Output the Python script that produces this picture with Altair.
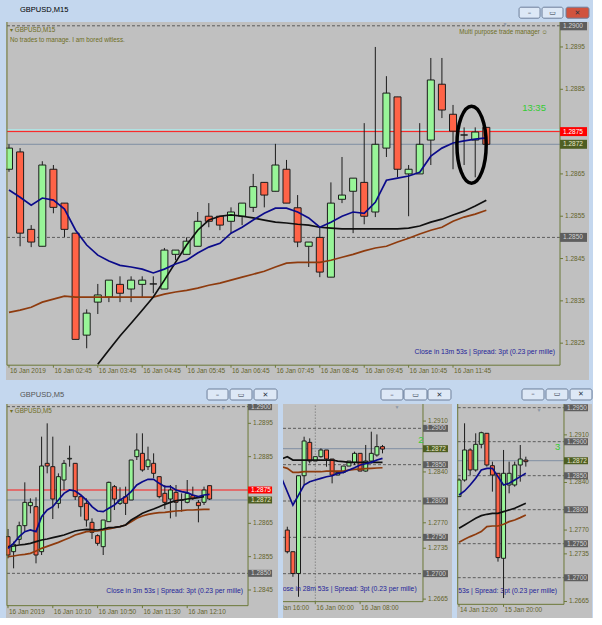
import altair as alt
import pandas as pd

FONT = "Liberation Sans"
FS = 6.5
LABEL_C = "#64642C"
FRAME_C = "#6B7838"
WICK_C = "#1C1C1C"
UP_C = "#98F598"
DN_C = "#FF6347"
BLUE_C = "#0B0B8A"
BLACK_C = "#101010"
BROWN_C = "#8E3B0E"
DASH_C = "#5C5C5C"
SLATE_C = "#7F8EA3"
RED_C = "#FF1A1A"
CYAN_C = "#B0E2E2"
BOX_GREY = "#5E5E5E"
BOX_OLIVE = "#4E5E22"
TXT_OLIVE = "#6E6E24"
NAVY_TXT = "#1F1F99"
GREEN_TXT = "#33CC33"

# ---------------- GBPUSD M15 (main window) ----------------
m15_open = [1.28661, 1.28702, 1.28519, 1.28479, 1.28661, 1.28581, 1.28510, 1.28269, 1.28347, 1.28359,
            1.28389, 1.28378, 1.28389, 1.28390, 1.28378, 1.28460, 1.28460, 1.28479, 1.28550, 1.28550,
            1.28538, 1.28550, 1.28571, 1.28630, 1.28609, 1.28661, 1.28570, 1.28479, 1.28500, 1.28406,
            1.28590, 1.28609, 1.28630, 1.28560, 1.28711, 1.28832, 1.28650, 1.28650, 1.28730, 1.28862,
            1.28791, 1.28742, 1.28730, 1.28760]
m15_high = [1.28720, 1.28711, 1.28529, 1.28680, 1.28671, 1.28581, 1.28510, 1.28330, 1.28390, 1.28399,
            1.28408, 1.28408, 1.28408, 1.28408, 1.28475, 1.28470, 1.28500, 1.28560, 1.28581, 1.28550,
            1.28571, 1.28581, 1.28650, 1.28630, 1.28721, 1.28683, 1.28600, 1.28489, 1.28524, 1.28630,
            1.28690, 1.28640, 1.28770, 1.28950, 1.28881, 1.28832, 1.28671, 1.28770, 1.28924, 1.28924,
            1.28813, 1.28760, 1.28760, 1.28760]
m15_low = [1.28655, 1.28479, 1.28477, 1.28479, 1.28557, 1.28501, 1.28259, 1.28238, 1.28319, 1.28347,
           1.28347, 1.28347, 1.28359, 1.28368, 1.28378, 1.28446, 1.28460, 1.28479, 1.28524, 1.28517,
           1.28510, 1.28529, 1.28560, 1.28571, 1.28609, 1.28581, 1.28477, 1.28430, 1.28406, 1.28406,
           1.28581, 1.28510, 1.28531, 1.28548, 1.28690, 1.28642, 1.28550, 1.28650, 1.28671, 1.28782,
           1.28661, 1.28671, 1.28642, 1.28720]
m15_close = [1.28711, 1.28510, 1.28489, 1.28671, 1.28571, 1.28519, 1.28259, 1.28321, 1.28364, 1.28399,
             1.28368, 1.28399, 1.28399, 1.28390, 1.28470, 1.28470, 1.28491, 1.28538, 1.28538, 1.28529,
             1.28560, 1.28581, 1.28620, 1.28600, 1.28671, 1.28581, 1.28489, 1.28489, 1.28418, 1.28581,
             1.28600, 1.28640, 1.28550, 1.28720, 1.28841, 1.28661, 1.28661, 1.28720, 1.28872, 1.28801,
             1.28751, 1.28742, 1.28749, 1.28720]
m15_ma_blue = [1.28612, 1.28595, 1.28576, 1.28593, 1.28588, 1.28567, 1.28517, 1.28482, 1.28458, 1.28444,
               1.28434, 1.28430, 1.28425, 1.28416, 1.28425, 1.28437, 1.28446, 1.28463, 1.28477, 1.28486,
               1.28510, 1.28524, 1.28541, 1.28557, 1.28569, 1.28569, 1.28560, 1.28546, 1.28524, 1.28536,
               1.28550, 1.28560, 1.28557, 1.28583, 1.28635, 1.28640, 1.28645, 1.28654, 1.28692, 1.28711,
               1.28723, 1.28728, 1.28732, 1.28735]
m15_ma_black_start = 8
m15_ma_black = [1.28200, 1.28234, 1.28267, 1.28297, 1.28328, 1.28359, 1.28399, 1.28441, 1.28482, 1.28517,
                1.28541, 1.28550, 1.28553, 1.28550, 1.28546, 1.28541, 1.28536, 1.28534, 1.28531, 1.28529,
                1.28524, 1.28522, 1.28520, 1.28520, 1.28520, 1.28520, 1.28520, 1.28520, 1.28522, 1.28527,
                1.28536, 1.28543, 1.28553, 1.28562, 1.28574, 1.28588]
m15_ma_brown = [1.28323, 1.28328, 1.28335, 1.28347, 1.28354, 1.28361, 1.28359, 1.28359, 1.28359, 1.28359,
                1.28359, 1.28359, 1.28359, 1.28359, 1.28366, 1.28371, 1.28375, 1.28380, 1.28387, 1.28392,
                1.28399, 1.28406, 1.28413, 1.28420, 1.28430, 1.28439, 1.28441, 1.28441, 1.28441, 1.28446,
                1.28453, 1.28460, 1.28468, 1.28475, 1.28479, 1.28489, 1.28498, 1.28508, 1.28517, 1.28524,
                1.28538, 1.28548, 1.28555, 1.28564]
m15_xlabels = ["16 Jan 2019", "16 Jan 02:45", "16 Jan 03:45", "16 Jan 04:45", "16 Jan 05:45",
               "16 Jan 06:45", "16 Jan 07:45", "16 Jan 08:45", "16 Jan 09:45", "16 Jan 10:45",
               "16 Jan 11:45"]
m15_yticks = [1.2825, 1.2835, 1.2845, 1.2855, 1.2865, 1.2885, 1.2895]

# ---------------- GBPUSD M5 (lower left window) ----------------
m5_open = [1.28610, 1.28565, 1.28602, 1.28643, 1.28703, 1.28700, 1.28565, 1.28830, 1.28820, 1.28710,
           1.28780, 1.28843, 1.28830, 1.28730, 1.28710, 1.28653, 1.28613, 1.28580, 1.28655, 1.28760,
           1.28710, 1.28730, 1.28720, 1.28850, 1.28860, 1.28820, 1.28830, 1.28790, 1.28740, 1.28723,
           1.28743, 1.28720, 1.28713, 1.28733, 1.28713, 1.28713, 1.28763]
m5_high = [1.28633, 1.28595, 1.28655, 1.28773, 1.28725, 1.28728, 1.28910, 1.28950, 1.28910, 1.28800,
           1.28840, 1.28883, 1.28830, 1.28730, 1.28725, 1.28665, 1.28617, 1.28660, 1.28775, 1.28765,
           1.28758, 1.28760, 1.28840, 1.28920, 1.28920, 1.28880, 1.28860, 1.28790, 1.28765, 1.28765,
           1.28765, 1.28740, 1.28780, 1.28760, 1.28720, 1.28760, 1.28763]
m5_low = [1.28545, 1.28515, 1.28587, 1.28627, 1.28680, 1.28530, 1.28555, 1.28800, 1.28663, 1.28695,
          1.28750, 1.28820, 1.28720, 1.28670, 1.28640, 1.28603, 1.28583, 1.28555, 1.28655, 1.28690,
          1.28705, 1.28675, 1.28720, 1.28840, 1.28805, 1.28810, 1.28785, 1.28725, 1.28693, 1.28665,
          1.28670, 1.28685, 1.28710, 1.28720, 1.28653, 1.28705, 1.28720]
m5_close = [1.28555, 1.28587, 1.28643, 1.28713, 1.28713, 1.28555, 1.28822, 1.28822, 1.28723, 1.28790,
            1.28830, 1.28845, 1.28730, 1.28700, 1.28660, 1.28623, 1.28590, 1.28660, 1.28773, 1.28723,
            1.28720, 1.28710, 1.28840, 1.28870, 1.28810, 1.28840, 1.28800, 1.28730, 1.28713, 1.28750,
            1.28713, 1.28720, 1.28740, 1.28725, 1.28703, 1.28750, 1.28723]
m5_ma_blue = [1.28575, 1.28590, 1.28610, 1.28625, 1.28630, 1.28625, 1.28670, 1.28690, 1.28700, 1.28720,
              1.28740, 1.28750, 1.28747, 1.28735, 1.28720, 1.28700, 1.28687, 1.28685, 1.28695, 1.28705,
              1.28720, 1.28730, 1.28745, 1.28765, 1.28775, 1.28782, 1.28782, 1.28770, 1.28760, 1.28760,
              1.28750, 1.28745, 1.28742, 1.28735, 1.28730, 1.28735, 1.28737]
m5_ma_black = [1.28580, 1.28582, 1.28585, 1.28587, 1.28590, 1.28595, 1.28600, 1.28603, 1.28607, 1.28611,
               1.28615, 1.28621, 1.28627, 1.28630, 1.28632, 1.28631, 1.28630, 1.28633, 1.28637, 1.28638,
               1.28640, 1.28645, 1.28660, 1.28670, 1.28680, 1.28687, 1.28693, 1.28700, 1.28707, 1.28713,
               1.28718, 1.28720, 1.28723, 1.28725, 1.28727, 1.28730]
m5_ma_brown = [1.28550, 1.28552, 1.28555, 1.28557, 1.28560, 1.28567, 1.28575, 1.28581, 1.28587, 1.28593,
               1.28600, 1.28607, 1.28615, 1.28620, 1.28625, 1.28626, 1.28627, 1.28630, 1.28633, 1.28637,
               1.28640, 1.28645, 1.28655, 1.28665, 1.28672, 1.28677, 1.28680, 1.28682, 1.28683, 1.28685,
               1.28687, 1.28688, 1.28690, 1.28690, 1.28691, 1.28692, 1.28692]
m5_xlabels = ["16 Jan 2019", "16 Jan 10:10", "16 Jan 10:50", "16 Jan 11:30", "16 Jan 12:10"]
m5_yticks = [1.2845, 1.2855, 1.2865, 1.2885, 1.2895]

# ---------------- GBPUSD H1 (lower middle window) ----------------
h1_open = [1.27600, 1.27302, 1.27003, 1.28348, 1.28807, 1.28550, 1.28610, 1.28702, 1.28578, 1.28357,
           1.28394, 1.28481, 1.28532, 1.28656, 1.28412, 1.28550, 1.28633, 1.28748]
h1_high = [1.27646, 1.27302, 1.28348, 1.28885, 1.28862, 1.28610, 1.28725, 1.28702, 1.28578, 1.28394,
           1.28481, 1.28550, 1.28679, 1.28656, 1.28771, 1.28954, 1.28917, 1.28771]
h1_low = [1.27279, 1.26957, 1.26682, 1.28220, 1.28518, 1.28550, 1.28596, 1.28472, 1.28243, 1.28357,
          1.28380, 1.28481, 1.28495, 1.28412, 1.28403, 1.28518, 1.28610, 1.28656]
h1_close = [1.27302, 1.27003, 1.28348, 1.28826, 1.28550, 1.28610, 1.28702, 1.28578, 1.28357, 1.28394,
            1.28481, 1.28550, 1.28656, 1.28412, 1.28550, 1.28656, 1.28748, 1.28715]
h1_ma_start = -1
h1_ma_blue = [1.28312, 1.28128, 1.27944, 1.28082, 1.28220, 1.28266, 1.28289, 1.28312, 1.28334, 1.28348,
              1.28380, 1.28394, 1.28426, 1.28458, 1.28495, 1.28513, 1.28532, 1.28564, 1.28587]
h1_ma_black = [1.28580, 1.28610, 1.28564, 1.28564, 1.28564, 1.28564, 1.28564, 1.28564, 1.28564, 1.28564,
               1.28550, 1.28541, 1.28532, 1.28532, 1.28532, 1.28532, 1.28532, 1.28532, 1.28532]
h1_ma_brown = [1.28470, 1.28449, 1.28394, 1.28394, 1.28403, 1.28403, 1.28403, 1.28403, 1.28412, 1.28412,
               1.28412, 1.28412, 1.28426, 1.28435, 1.28440, 1.28445, 1.28449, 1.28454, 1.28458]
h1_xlabels = ["15 Jan 16:00", "16 Jan 00:00", "16 Jan 08:00"]
h1_yticks = [1.2910, 1.2840, 1.2770, 1.2735, 1.2665]

# ---------------- GBPUSD H4 (lower right window) ----------------
h4_open = [1.28192, 1.28436, 1.28878, 1.28584, 1.28961, 1.29123, 1.28647, 1.28535, 1.27285, 1.28363,
           1.28363, 1.28657, 1.28730]
h4_high = [1.28461, 1.29270, 1.28902, 1.29123, 1.29147, 1.29123, 1.28706, 1.28535, 1.28878, 1.28706,
           1.28706, 1.28951, 1.28779]
h4_low = [1.28192, 1.28412, 1.28510, 1.28559, 1.28902, 1.28633, 1.28265, 1.27236, 1.26700, 1.28240,
          1.28338, 1.28412, 1.28633]
h4_close = [1.28436, 1.28878, 1.28584, 1.28961, 1.29132, 1.28657, 1.28510, 1.27295, 1.28535, 1.28535,
            1.28657, 1.28745, 1.28706]
h4_ma_blue = [1.28216, 1.28275, 1.28363, 1.28461, 1.28584, 1.28608, 1.28608, 1.28486, 1.28363, 1.28388,
              1.28436, 1.28486, 1.28535]
h4_ma_black = [1.27726, 1.27775, 1.27824, 1.27873, 1.27912, 1.27932, 1.27946, 1.27946, 1.27971, 1.27996,
               1.28020, 1.28059, 1.28094]
h4_ma_brown = [1.27520, 1.27564, 1.27604, 1.27638, 1.27677, 1.27751, 1.27760, 1.27760, 1.27785, 1.27824,
               1.27849, 1.27883, 1.27922]
h4_xlabels = ["14 Jan 12:00", "15 Jan 20:00"]
h4_yticks = [1.2910, 1.2840, 1.2770, 1.2735, 1.2665]

ELLIPSE = "M0,-1A0.38,1,0,1,1,0,1A0.38,1,0,1,1,0,-1Z"
BTN_GLYPHS = ["–", "▭", "✕"]


def build_panel(c):
    xs = alt.Scale(domain=c["xdom"], nice=False, zero=False, padding=0)
    ys = alt.Scale(domain=c["ydom"], nice=False, zero=False, padding=0)

    def X(f):
        return alt.X(f, type="quantitative", scale=xs, axis=None)

    def Y(f):
        return alt.Y(f, type="quantitative", scale=ys, axis=None)

    fl, fr, fb = c["frame_left"], c["frame_right"], c["frame_bottom"]
    ytop = c["ydom"][1]
    xleft = c["xdom"][0]
    line_left = fl if fl is not None else xleft
    spx, ppu = c["px_per_bar"], c["px_per_unit"]

    n = len(c["open"])
    cd = pd.DataFrame({"i": list(range(n)), "o": c["open"], "h": c["high"],
                       "l": c["low"], "c": c["close"]})
    cd["fill"] = [UP_C if cc >= oo else DN_C for oo, cc in zip(cd["o"], cd["c"])]

    layers = []
    # dashed round-number levels
    dd = pd.DataFrame({"p": c["dashed"], "x0": line_left, "x1": fr})
    layers.append(alt.Chart(dd).mark_rule(color=DASH_C, strokeDash=[3, 2], strokeWidth=1, clip=True)
                  .encode(x=X("x0"), x2="x1", y=Y("p")))
    # vertical period separators
    if c.get("vlines"):
        vd = pd.DataFrame({"x": c["vlines"], "y0": fb, "y1": ytop})
        layers.append(alt.Chart(vd).mark_rule(color="#6A6A6A", strokeDash=[1, 2], strokeWidth=1)
                      .encode(x=X("x"), y=Y("y0"), y2="y1"))
    # solid price lines
    sd = pd.DataFrame({"p": [p for p, _ in c["solid"]], "col": [k for _, k in c["solid"]],
                       "x0": line_left, "x1": fr})
    layers.append(alt.Chart(sd).mark_rule(strokeWidth=1, clip=True)
                  .encode(x=X("x0"), x2="x1", y=Y("p"), color=alt.Color("col:N", scale=None)))
    # wicks
    layers.append(alt.Chart(cd).mark_rule(color=WICK_C, strokeWidth=1, clip=True)
                  .encode(x=X("i"), y=Y("l"), y2="h"))
    # bodies
    layers.append(alt.Chart(cd).mark_bar(size=c["body"], stroke=WICK_C, strokeWidth=1, clip=True)
                  .encode(x=X("i"), y=Y("o"), y2="c", fill=alt.Fill("fill:N", scale=None)))
    # moving averages
    rows = []
    for name, st, vals, col in c["mas"]:
        for k, v in enumerate(vals):
            rows.append({"i": st + k, "v": v, "s": name, "col": col})
    md = pd.DataFrame(rows)
    layers.append(alt.Chart(md).mark_line(strokeWidth=1.7, clip=True)
                  .encode(x=X("i"), y=Y("v"), color=alt.Color("col:N", scale=None),
                          detail="s:N", order="i:Q"))
    # plot frame
    fr_rows = [{"x": fr, "x2": fr, "y": fb, "y2": ytop},
               {"x": line_left, "x2": fr, "y": fb, "y2": fb}]
    if fl is not None:
        fr_rows.append({"x": fl, "x2": fl, "y": fb, "y2": ytop})
    fd = pd.DataFrame(fr_rows)
    layers.append(alt.Chart(fd).mark_rule(color=FRAME_C, strokeWidth=1)
                  .encode(x=X("x"), x2="x2", y=Y("y"), y2="y2"))
    # price scale: ticks and labels
    yt = pd.DataFrame({"p": c["yticks"]})
    yt["label"] = [f"{p:.4f}" for p in yt["p"]]
    yt["x0"] = fr
    yt["x1"] = fr + 3.0 / spx
    layers.append(alt.Chart(yt).mark_rule(color=FRAME_C, strokeWidth=1, clip=True)
                  .encode(x=X("x0"), x2="x1", y=Y("p")))
    layers.append(alt.Chart(yt).mark_text(align="left", baseline="middle", dx=5, font=FONT, fontSize=FS,
                                          color=LABEL_C, clip=True)
                  .encode(x=X("x0"), y=Y("p"), text="label:N"))
    # time scale: ticks and labels
    labels = c["xlabels"]
    xt = pd.DataFrame({"i": [c["xlab_start"] + k * c["xlab_step"] for k in range(len(labels))],
                       "label": labels})
    xt["y0"] = fb
    xt["y1"] = fb - 2.5 / ppu
    layers.append(alt.Chart(xt).mark_rule(color=FRAME_C, strokeWidth=1, clip=True)
                  .encode(x=X("i"), y=Y("y0"), y2="y1"))
    layers.append(alt.Chart(xt).mark_text(align="left", baseline="top", dx=1, dy=3, font=FONT, fontSize=FS,
                                          color=LABEL_C, clip=True)
                  .encode(x=X("i"), y=Y("y0"), text="label:N"))
    # price label boxes
    bd = pd.DataFrame({"p": [b[0] for b in c["boxes"]], "fill": [b[1] for b in c["boxes"]],
                       "tc": [b[2] for b in c["boxes"]]})
    bd["label"] = [f"{p:.4f}" for p in bd["p"]]
    bd["y0"] = bd["p"] - c["box_h"]
    bd["y1"] = bd["p"] + c["box_h"]
    bd["x0"] = fr
    bd["x1"] = fr + c["box_w"]
    layers.append(alt.Chart(bd).mark_rect(clip=True)
                  .encode(x=X("x0"), x2="x1", y=Y("y0"), y2="y1", color=alt.Color("fill:N", scale=None)))
    layers.append(alt.Chart(bd).mark_text(align="left", baseline="middle", dx=3, font=FONT,
                                          fontSize=FS, clip=True)
                  .encode(x=X("x0"), y=Y("p"), text="label:N", color=alt.Color("tc:N", scale=None)))
    # text annotations
    for a in c["notes"]:
        ad = pd.DataFrame({"x": [a["x"]], "y": [a["y"]], "t": [a["t"]]})
        layers.append(alt.Chart(ad).mark_text(align=a.get("align", "left"), baseline=a.get("baseline", "middle"),
                                              font=FONT, fontSize=a.get("size", FS), color=a["color"],
                                              fontWeight=a.get("weight", "normal"), clip=a.get("clip", True))
                      .encode(x=X("x"), y=Y("y"), text="t:N"))
    if c.get("ellipse"):
        ex, ey, esz = c["ellipse"]
        ed = pd.DataFrame({"x": [ex], "y": [ey]})
        layers.append(alt.Chart(ed).mark_point(shape=ELLIPSE, size=esz, filled=False, stroke="#000000",
                                               strokeWidth=3.5, opacity=1)
                      .encode(x=X("x"), y=Y("y")))
    # window caption: buttons and title (above the client area)
    bx, (by0, by1), close_fill = c["buttons"]
    wd = pd.DataFrame({"x0": [b[0] for b in bx], "x1": [b[1] for b in bx],
                       "xm": [(b[0] + b[1]) / 2 for b in bx], "y0": by0, "y1": by1,
                       "ym": (by0 + by1) / 2, "g": BTN_GLYPHS,
                       "f": ["#DDE8F6", "#DDE8F6", close_fill]})
    layers.append(alt.Chart(wd).mark_rect(stroke="#6D7F9A", strokeWidth=1, cornerRadius=2)
                  .encode(x=X("x0"), x2="x1", y=Y("y0"), y2="y1", color=alt.Color("f:N", scale=None)))
    layers.append(alt.Chart(wd).mark_text(font="DejaVu Sans", fontSize=7, color="#2A3344", baseline="middle")
                  .encode(x=X("xm"), y=Y("ym"), text="g:N"))
    if c.get("title"):
        tx, ty, tt, tc = c["title"]
        td = pd.DataFrame({"x": [tx], "y": [ty], "t": [tt]})
        layers.append(alt.Chart(td).mark_text(align="left", baseline="middle", font=FONT, fontSize=7.5,
                                              color=tc)
                      .encode(x=X("x"), y=Y("y"), text="t:N"))
    return alt.layer(*layers).properties(width=c["width"], height=c["height"])


main_cfg = dict(
    width=583, height=358, xdom=[-0.27, 52.25], ydom=[1.28163, 1.29009],
    px_per_bar=11.1, px_per_unit=42300,
    frame_left=-0.18, frame_right=49.64, frame_bottom=1.28198,
    open=m15_open, high=m15_high, low=m15_low, close=m15_close, body=7,
    mas=[("brown", 0, m15_ma_brown, BROWN_C), ("black", m15_ma_black_start, m15_ma_black, BLACK_C),
         ("blue", 0, m15_ma_blue, BLUE_C)],
    xlabels=m15_xlabels, xlab_start=0, xlab_step=4, yticks=m15_yticks,
    dashed=[1.2900, 1.2850],
    solid=[(1.28755, CYAN_C), (1.2872, SLATE_C), (1.2875, RED_C)],
    boxes=[(1.2900, BOX_GREY, "#D2D2D2"), (1.2875, "#FF0000", "#FFFFFF"),
           (1.2872, BOX_OLIVE, "#E6E6C8"), (1.2850, BOX_GREY, "#D2D2D2")],
    box_h=0.000106, box_w=2.43,
    notes=[
        dict(x=0.09, y=1.28989, t="▾ GBPUSD,M15", color=TXT_OLIVE, size=6.3),
        dict(x=0.09, y=1.28966, t="No trades to manage. I am bored witless.", color=TXT_OLIVE, size=6.3),
        dict(x=48.56, y=1.28986, t="Multi purpose trade manager ☺", color=TXT_OLIVE, size=6.3, align="right"),
        dict(x=44.69, y=1.29004, t="▼", color="#8C96A6", size=5, align="center"),
        dict(x=47.30, y=1.28806, t="13:35", color=GREEN_TXT, size=9.5, align="center"),
        dict(x=49.19, y=1.28229, t="Close in 13m 53s | Spread: 3pt (0.23 per mille)", color=NAVY_TXT,
             size=6.8, align="right"),
    ],
    ellipse=(41.67, 1.28719, 5929),
    buttons=([(45.95, 47.84), (48.02, 49.91), (50.18, 52.25)], (1.29018, 1.29044), "#D0533F"),
    title=(0.99, 1.29037, "GBPUSD,M15", "#000000"),
)

m5_cfg = dict(
    width=272, height=214, xdom=[-0.357, 48.21], ydom=[1.28366, 1.29008],
    px_per_bar=5.6, px_per_unit=33300,
    frame_left=-0.18, frame_right=42.86, frame_bottom=1.28403,
    open=m5_open, high=m5_high, low=m5_low, close=m5_close, body=4,
    mas=[("brown", 0, m5_ma_brown, BROWN_C), ("black", 0, m5_ma_black, BLACK_C),
         ("blue", 0, m5_ma_blue, BLUE_C)],
    xlabels=m5_xlabels, xlab_start=0, xlab_step=8, yticks=m5_yticks,
    dashed=[1.2900, 1.2850],
    solid=[(1.2872, SLATE_C), (1.2875, RED_C)],
    boxes=[(1.2900, BOX_GREY, "#D2D2D2"), (1.2875, "#FF0000", "#FFFFFF"),
           (1.2872, BOX_OLIVE, "#E6E6C8"), (1.2850, BOX_GREY, "#D2D2D2")],
    box_h=0.000105, box_w=4.29,
    notes=[
        dict(x=0.36, y=1.28987, t="▾ GBPUSD,M5", color=TXT_OLIVE, size=6.3),
        dict(x=38.39, y=1.28996, t="▼", color="#8C96A6", size=5, align="center"),
        dict(x=41.96, y=1.28447, t="Close in 3m 53s | Spread: 3pt (0.23 per mille)", color=NAVY_TXT,
             size=6.8, align="right"),
    ],
    buttons=([(35.54, 39.29), (39.64, 43.57), (43.93, 48.04)], (1.29020, 1.29053), "#DDE8F6"),
    title=(2.14, 1.29035, "GBPUSD,M5", "#555555"),
)

h1_cfg = dict(
    width=169, height=214, xdom=[-0.77, 29.41], ydom=[1.26390, 1.29335],
    px_per_bar=5.6, px_per_unit=7267,
    frame_left=None, frame_right=24.23, frame_bottom=1.26615,
    open=h1_open, high=h1_high, low=h1_low, close=h1_close, body=4,
    mas=[("brown", h1_ma_start, h1_ma_brown, BROWN_C), ("black", h1_ma_start, h1_ma_black, BLACK_C),
         ("blue", h1_ma_start, h1_ma_blue, BLUE_C)],
    xlabels=h1_xlabels, xlab_start=-3, xlab_step=8, yticks=h1_yticks,
    dashed=[1.2900, 1.2850, 1.2800, 1.2750, 1.2700],
    solid=[(1.2872, SLATE_C)],
    vlines=[5],
    boxes=[(1.2900, BOX_GREY, "#D2D2D2"), (1.2872, BOX_OLIVE, "#E6E6C8"), (1.2850, BOX_GREY, "#D2D2D2"),
           (1.2800, BOX_GREY, "#D2D2D2"), (1.2750, BOX_GREY, "#D2D2D2"), (1.2700, BOX_GREY, "#D2D2D2")],
    box_h=0.00048, box_w=4.46,
    notes=[
        dict(x=19.59, y=1.29294, t="▼", color="#8C96A6", size=5, align="center"),
        dict(x=23.37, y=1.28840, t="2", color=GREEN_TXT, size=9.5),
        dict(x=23.1, y=1.26789, t="Close in 28m 53s | Spread: 3pt (0.23 per mille)", color=NAVY_TXT,
             size=6.8, align="right"),
    ],
    buttons=([(16.73, 20.66), (20.84, 24.94), (25.12, 29.23)], (1.29390, 1.29541), "#DDE8F6"),
)

h4_cfg = dict(
    width=135, height=214, xdom=[-0.36, 23.88], ydom=[1.26407, 1.29554],
    px_per_bar=5.57, px_per_unit=6800,
    frame_left=-0.23, frame_right=18.85, frame_bottom=1.26608,
    open=h4_open, high=h4_high, low=h4_low, close=h4_close, body=4,
    mas=[("brown", 0, h4_ma_brown, BROWN_C), ("black", 0, h4_ma_black, BLACK_C),
         ("blue", 0, h4_ma_blue, BLUE_C)],
    xlabels=h4_xlabels, xlab_start=0, xlab_step=8, yticks=h4_yticks,
    dashed=[1.2950, 1.2900, 1.2850, 1.2800, 1.2750, 1.2700],
    solid=[(1.2872, SLATE_C)],
    boxes=[(1.2950, BOX_GREY, "#D2D2D2"), (1.2900, BOX_GREY, "#D2D2D2"), (1.2872, BOX_OLIVE, "#E6E6C8"),
           (1.2850, BOX_GREY, "#D2D2D2"), (1.2800, BOX_GREY, "#D2D2D2"), (1.2750, BOX_GREY, "#D2D2D2"),
           (1.2700, BOX_GREY, "#D2D2D2")],
    box_h=0.00051, box_w=4.31,
    notes=[
        dict(x=14.36, y=1.29466, t="▼", color="#8C96A6", size=5, align="center"),
        dict(x=17.23, y=1.28922, t="3", color=GREEN_TXT, size=9.5),
        dict(x=17.6, y=1.26804, t="Close in 3h 28m 53s | Spread: 3pt (0.23 per mille)", color=NAVY_TXT,
             size=6.8, align="right"),
    ],
    buttons=([(11.31, 15.26), (15.62, 19.57), (19.93, 23.88)], (1.29613, 1.29775), "#DDE8F6"),
)

main = build_panel(main_cfg)
bottom = alt.hconcat(build_panel(m5_cfg), build_panel(h1_cfg), build_panel(h4_cfg),
                     spacing=5, bounds="flush")

chart = (
    alt.vconcat(main, bottom, spacing=24, bounds="flush")
    .properties(background="#C4D7EE", padding={"left": 6, "top": 6, "right": 0, "bottom": 0})
    .configure_view(fill="#C0C0C0", stroke=None)
)

chart.save("out.html", embed_options={"renderer": "svg", "actions": False})
